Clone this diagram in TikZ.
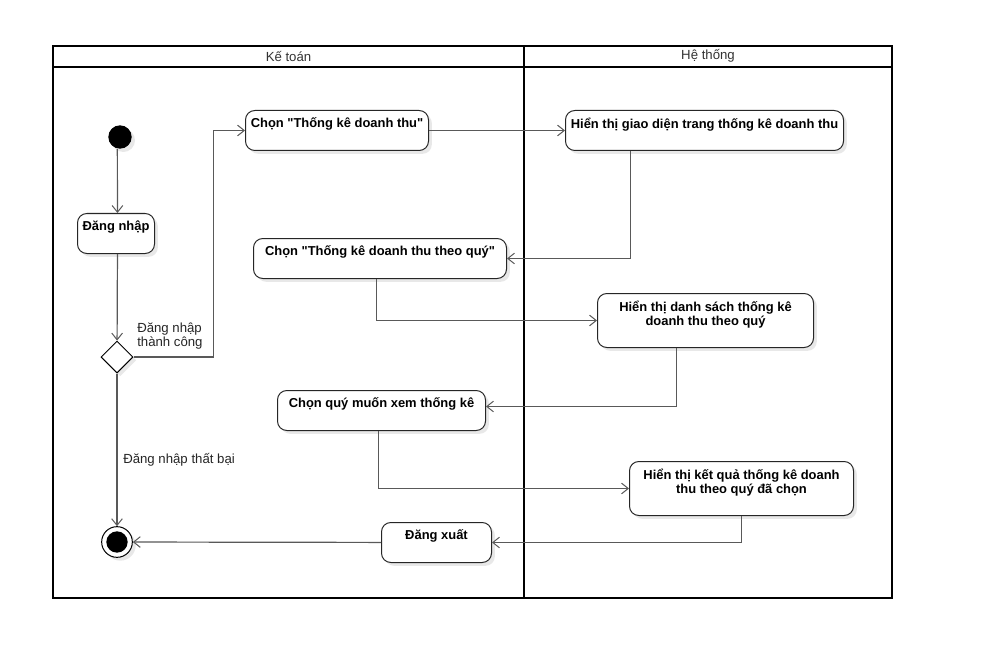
\documentclass[tikz,border=0pt]{standalone}
\usepackage{fontspec}
\setmainfont{Liberation Sans}
\usetikzlibrary{arrows.meta,shapes.geometric,shadows}

\begin{document}
\begin{tikzpicture}[x=0.75pt,y=-0.75pt,
  softshadow/.style={drop shadow={shadow xshift=2.5pt,shadow yshift=-2.5pt,fill=black!9,opacity=1}},
  act/.style={draw=black!85,line width=0.75pt,rounded corners=7pt,fill=white,softshadow,
    anchor=north west,inner sep=0pt,
    label={[font=\bfseries\fontsize{9.7}{11}\selectfont,align=center,anchor=north,inner sep=0pt,yshift=-5.5pt]north:{#1}}},
  flow/.style={draw=black!65,line width=0.9pt,-{Straight Barb[length=5pt,width=8pt,line width=0.75pt]}},
  lanefont/.style={font=\fontsize{9.9}{12}\selectfont,text=black!80},
  guard/.style={font=\fontsize{9.9}{11}\selectfont,text=black!85,align=left,inner sep=0pt},
  lane/.style={draw=black,line width=1.5pt}
]
\useasboundingbox (0,0) rectangle (987,652);
\fill[white] (0,0) rectangle (987,652);

% swimlane frame
\draw[lane] (53,46) rectangle (892,598);
\draw[lane] (53,67) -- (892,67);
\draw[lane] (524,46) -- (524,598);
\node[lanefont] (laneA) at (288.5,56) {Kế toán};
\node[lanefont] (laneB) at (708,56) {Hệ thống};

% start, decision and end
\node[circle,fill=black,minimum size=17.5pt,inner sep=0pt,softshadow] (start) at (120,137) {};
\node[diamond,draw=black,fill=white,line width=0.75pt,minimum size=24pt,inner sep=0pt,softshadow] (dec) at (117,357) {};
\node[circle,draw=black,fill=white,line width=0.75pt,minimum size=23pt,inner sep=0pt,softshadow] (stop) at (117,542) {};
\node[circle,fill=black,minimum size=16pt,inner sep=0pt] (stopdot) at (stop.center) {};

% activities
\node[act={Đăng nhập},minimum width=57.75pt,minimum height=30pt] (login) at (77,213) {};
\node[act={Chọn \textquotedbl Thống kê doanh thu\textquotedbl},minimum width=137.25pt,minimum height=30pt] (pick) at (245,110) {};
\node[act={Hiển thị giao diện trang thống kê doanh thu},minimum width=208.5pt,minimum height=30pt] (ui) at (565,110) {};
\node[act={Chọn \textquotedbl Thống kê doanh thu theo quý\textquotedbl},minimum width=189.75pt,minimum height=30pt] (pickq) at (253,238) {};
\node[act={Hiển thị danh sách thống kê\\doanh thu theo quý},minimum width=162pt,minimum height=40.5pt] (list) at (597,293) {};
\node[act={Chọn quý muốn xem thống kê},minimum width=156pt,minimum height=30pt] (quarter) at (277,390) {};
\node[act={Hiển thị kết quả thống kê doanh\\thu theo quý đã chọn},minimum width=168pt,minimum height=40.5pt] (result) at (629,461) {};
\node[act={Đăng xuất},minimum width=82.5pt,minimum height=30pt] (logout) at (381,522) {};

% guards
\node[guard,anchor=north west] (okay) at (137,322) {Đăng nhập\\thành công};
\node[guard,anchor=west] (fail) at (123,460) {Đăng nhập thất bại};

% control flow
\draw[flow] ([xshift=-2pt]start.south) -- ([xshift=1.1pt]login.north);
\draw[flow] ([xshift=1.1pt]login.south) -- (dec);
\draw[flow] (dec.east) -- ++(80,0) |- (pick.west);
\draw[flow] (dec.south) -- (stop);
\draw[flow] (pick) -- (ui);
\draw[flow] ([xshift=-55.5pt]ui.south) |- (pickq.east);
\draw[flow] ([xshift=-2.5pt]pickq.south) |- (list.west);
\draw[flow] ([xshift=-21.75pt]list.south) |- ([yshift=3pt]quarter.east);
\draw[flow] ([xshift=-2.25pt]quarter.south) |- (result.west);
\draw[flow] (result.south) |- (logout.east);
\draw[flow] (logout) -- (stop);
\end{tikzpicture}
\end{document}
